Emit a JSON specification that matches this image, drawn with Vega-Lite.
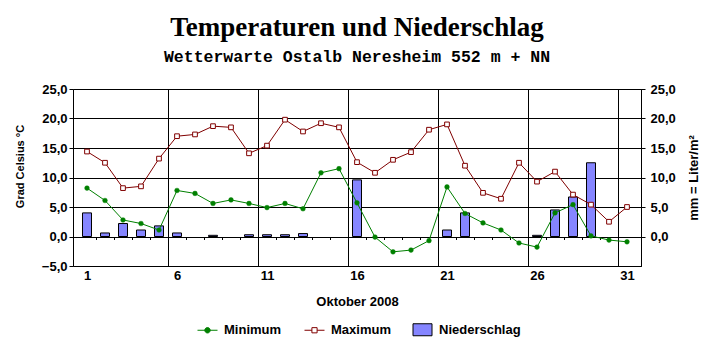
{
  "$schema": "https://vega.github.io/schema/vega-lite/v6.json",
  "width": 568,
  "height": 177,
  "autosize": {"type": "none"},
  "padding": {"left": 73, "top": 89, "right": 74, "bottom": 86},
  "background": "white",
  "title": {
    "text": "Temperaturen und Niederschlag",
    "subtitle": "Wetterwarte Ostalb Neresheim 552 m + NN",
    "font": "Liberation Serif",
    "fontSize": 27,
    "fontWeight": "bold",
    "color": "black",
    "subtitleFont": "Liberation Mono",
    "subtitleFontSize": 16.5,
    "subtitleFontWeight": "bold",
    "subtitleColor": "black",
    "subtitlePadding": 7,
    "anchor": "middle",
    "frame": "group",
    "offset": 17
  },
  "datasets": {
    "weather": [
      {"day": 1, "min": 8.2, "max": 14.4, "precip": 4.0},
      {"day": 2, "min": 6.1, "max": 12.5, "precip": 0.6},
      {"day": 3, "min": 2.8, "max": 8.2, "precip": 2.2},
      {"day": 4, "min": 2.2, "max": 8.5, "precip": 1.1},
      {"day": 5, "min": 1.1, "max": 13.2, "precip": 1.8},
      {"day": 6, "min": 7.8, "max": 17.0, "precip": 0.6},
      {"day": 7, "min": 7.3, "max": 17.3, "precip": 0},
      {"day": 8, "min": 5.6, "max": 18.7, "precip": 0.2},
      {"day": 9, "min": 6.2, "max": 18.5, "precip": 0},
      {"day": 10, "min": 5.6, "max": 14.1, "precip": 0.3},
      {"day": 11, "min": 4.9, "max": 15.4, "precip": 0.3},
      {"day": 12, "min": 5.6, "max": 19.8, "precip": 0.3},
      {"day": 13, "min": 4.7, "max": 17.8, "precip": 0.5},
      {"day": 14, "min": 10.8, "max": 19.2, "precip": 0},
      {"day": 15, "min": 11.5, "max": 18.5, "precip": 0},
      {"day": 16, "min": 5.7, "max": 12.6, "precip": 9.6},
      {"day": 17, "min": -0.1, "max": 10.8, "precip": 0},
      {"day": 18, "min": -2.6, "max": 13.0, "precip": 0},
      {"day": 19, "min": -2.3, "max": 14.3, "precip": 0},
      {"day": 20, "min": -0.7, "max": 18.1, "precip": 0},
      {"day": 21, "min": 8.4, "max": 19.0, "precip": 1.1},
      {"day": 22, "min": 3.9, "max": 12.0, "precip": 4.0},
      {"day": 23, "min": 2.3, "max": 7.4, "precip": 0},
      {"day": 24, "min": 1.1, "max": 6.4, "precip": 0},
      {"day": 25, "min": -1.1, "max": 12.5, "precip": 0},
      {"day": 26, "min": -1.8, "max": 9.3, "precip": 0.2},
      {"day": 27, "min": 4.0, "max": 11.0, "precip": 4.5},
      {"day": 28, "min": 5.4, "max": 7.1, "precip": 6.7},
      {"day": 29, "min": 0.1, "max": 5.4, "precip": 12.5},
      {"day": 30, "min": -0.6, "max": 2.5, "precip": 0},
      {"day": 31, "min": -0.9, "max": 5.0, "precip": 0}
    ],
    "legendItems": [
      {"series": "Minimum"},
      {"series": "Maximum"},
      {"series": "Niederschlag"}
    ]
  },
  "data": {"name": "weather"},
  "resolve": {"axis": {"x": "independent", "y": "independent"}},
  "layer": [
    {
      "transform": [{"filter": "datum.precip > 0"}],
      "mark": {"type": "bar", "size": 9, "fill": "#8585ff", "stroke": "black", "strokeWidth": 1},
      "encoding": {
        "x": {
          "field": "day", "type": "quantitative",
          "scale": {"domain": [0.5, 31.5], "nice": false, "zero": false},
          "axis": {"orient": "bottom", "values": [1, 6, 11, 16, 21, 26, 31], "ticks": false, "tickSize": 0, "grid": false, "domain": false, "labelPadding": 3, "labelFlush": false, "title": "Oktober 2008", "titlePadding": 13}
        },
        "y": {
          "field": "precip", "type": "quantitative",
          "scale": {"domain": [-5, 25], "nice": false, "zero": false},
          "axis": {"orient": "right", "values": [0, 5, 10, 15, 20, 25], "grid": false, "domain": true, "domainColor": "black", "tickSize": 4, "labelPadding": 5, "labelExpr": "replace(format(datum.value, '.1f'), '.', ',')", "title": "mm = Liter/m²", "titleAngle": 270, "titleBaseline": "top", "titlePadding": 12}
        }
      }
    },
    {
      "mark": {"type": "line", "color": "#008000", "strokeWidth": 1},
      "encoding": {
        "x": {
          "field": "day", "type": "quantitative",
          "scale": {"domain": [0.5, 31.5], "nice": false, "zero": false},
          "axis": {"orient": "bottom", "values": [5.5, 10.5, 15.5, 20.5, 25.5, 30.5], "grid": true, "labels": false, "ticks": false, "domain": false, "title": null}
        },
        "y": {
          "field": "min", "type": "quantitative",
          "scale": {"domain": [-5, 25], "nice": false, "zero": false},
          "axis": {"orient": "left", "values": [-5, 0, 5, 10, 15, 20, 25], "grid": true, "domain": false, "tickSize": 4, "labelPadding": 2, "labelExpr": "replace(format(datum.value, '.1f'), '.', ',')", "title": "Grad Celsius °C", "titleFontSize": 11, "titlePadding": 16, "titleY": 77}
        }
      }
    },
    {
      "mark": {"type": "line", "color": "#800000", "strokeWidth": 1},
      "encoding": {
        "x": {
          "field": "day", "type": "quantitative",
          "scale": {"domain": [0.5, 31.5], "nice": false, "zero": false},
          "axis": {"orient": "bottom", "values": [1.5, 2.5, 3.5, 4.5, 6.5, 7.5, 8.5, 9.5, 11.5, 12.5, 13.5, 14.5, 16.5, 17.5, 18.5, 19.5, 21.5, 22.5, 23.5, 24.5, 26.5, 27.5, 28.5, 29.5], "grid": false, "labels": false, "ticks": true, "tickSize": 3, "domain": false, "title": null, "offset": -29.5}
        },
        "y": {
          "field": "max", "type": "quantitative",
          "scale": {"domain": [-5, 25], "nice": false, "zero": false},
          "axis": null
        }
      }
    },
    {
      "mark": {"type": "point", "shape": "circle", "filled": true, "fill": "#008000", "stroke": "#008000", "strokeWidth": 0.5, "size": 22, "opacity": 1},
      "encoding": {
        "x": {"field": "day", "type": "quantitative", "scale": {"domain": [0.5, 31.5], "nice": false, "zero": false}, "axis": null},
        "y": {"field": "min", "type": "quantitative", "scale": {"domain": [-5, 25], "nice": false, "zero": false}, "axis": null}
      }
    },
    {
      "mark": {"type": "point", "shape": "square", "filled": true, "fill": "white", "stroke": "#800000", "strokeWidth": 1, "size": 22, "opacity": 1},
      "encoding": {
        "x": {"field": "day", "type": "quantitative", "scale": {"domain": [0.5, 31.5], "nice": false, "zero": false}, "axis": null},
        "y": {"field": "max", "type": "quantitative", "scale": {"domain": [-5, 25], "nice": false, "zero": false}, "axis": null}
      }
    },
    {
      "data": {"name": "legendItems"},
      "transform": [{"filter": "false"}],
      "mark": {"type": "point", "filled": true, "opacity": 1, "strokeWidth": 1},
      "encoding": {
        "shape": {
          "field": "series", "type": "nominal",
          "scale": {"domain": ["Minimum", "Maximum", "Niederschlag"], "range": ["M-1,0H1M0.27,0A0.27,0.27,0,1,1,-0.27,0A0.27,0.27,0,1,1,0.27,0Z", "M-1,0H-0.26M0.26,0H1M-0.26,-0.26H0.26V0.26H-0.26Z", "M-0.95,-0.6H0.95V0.6H-0.95Z"]},
          "legend": {"title": null, "orient": "none", "legendX": 124, "legendY": 230}
        },
        "fill": {
          "field": "series", "type": "nominal",
          "scale": {"domain": ["Minimum", "Maximum", "Niederschlag"], "range": ["#008000", "white", "#8585ff"]},
          "legend": {"title": null, "orient": "none", "legendX": 124, "legendY": 230}
        },
        "stroke": {
          "field": "series", "type": "nominal",
          "scale": {"domain": ["Minimum", "Maximum", "Niederschlag"], "range": ["#008000", "#800000", "black"]},
          "legend": {"title": null, "orient": "none", "legendX": 124, "legendY": 230}
        }
      }
    }
  ],
  "config": {
    "view": {"stroke": "black", "strokeWidth": 1},
    "axis": {
      "labelFont": "Liberation Sans", "labelFontSize": 13, "labelFontWeight": "bold", "labelColor": "black",
      "titleFont": "Liberation Sans", "titleFontSize": 13, "titleFontWeight": "bold", "titleColor": "black",
      "tickColor": "black", "tickWidth": 1, "gridColor": "black", "gridOpacity": 1, "gridWidth": 1
    },
    "legend": {
      "direction": "horizontal",
      "labelFont": "Liberation Sans", "labelFontSize": 13, "labelFontWeight": "bold", "labelColor": "black",
      "symbolSize": 400, "symbolStrokeWidth": 1, "labelOffset": 6, "columnPadding": 20, "padding": 0
    }
  }
}
